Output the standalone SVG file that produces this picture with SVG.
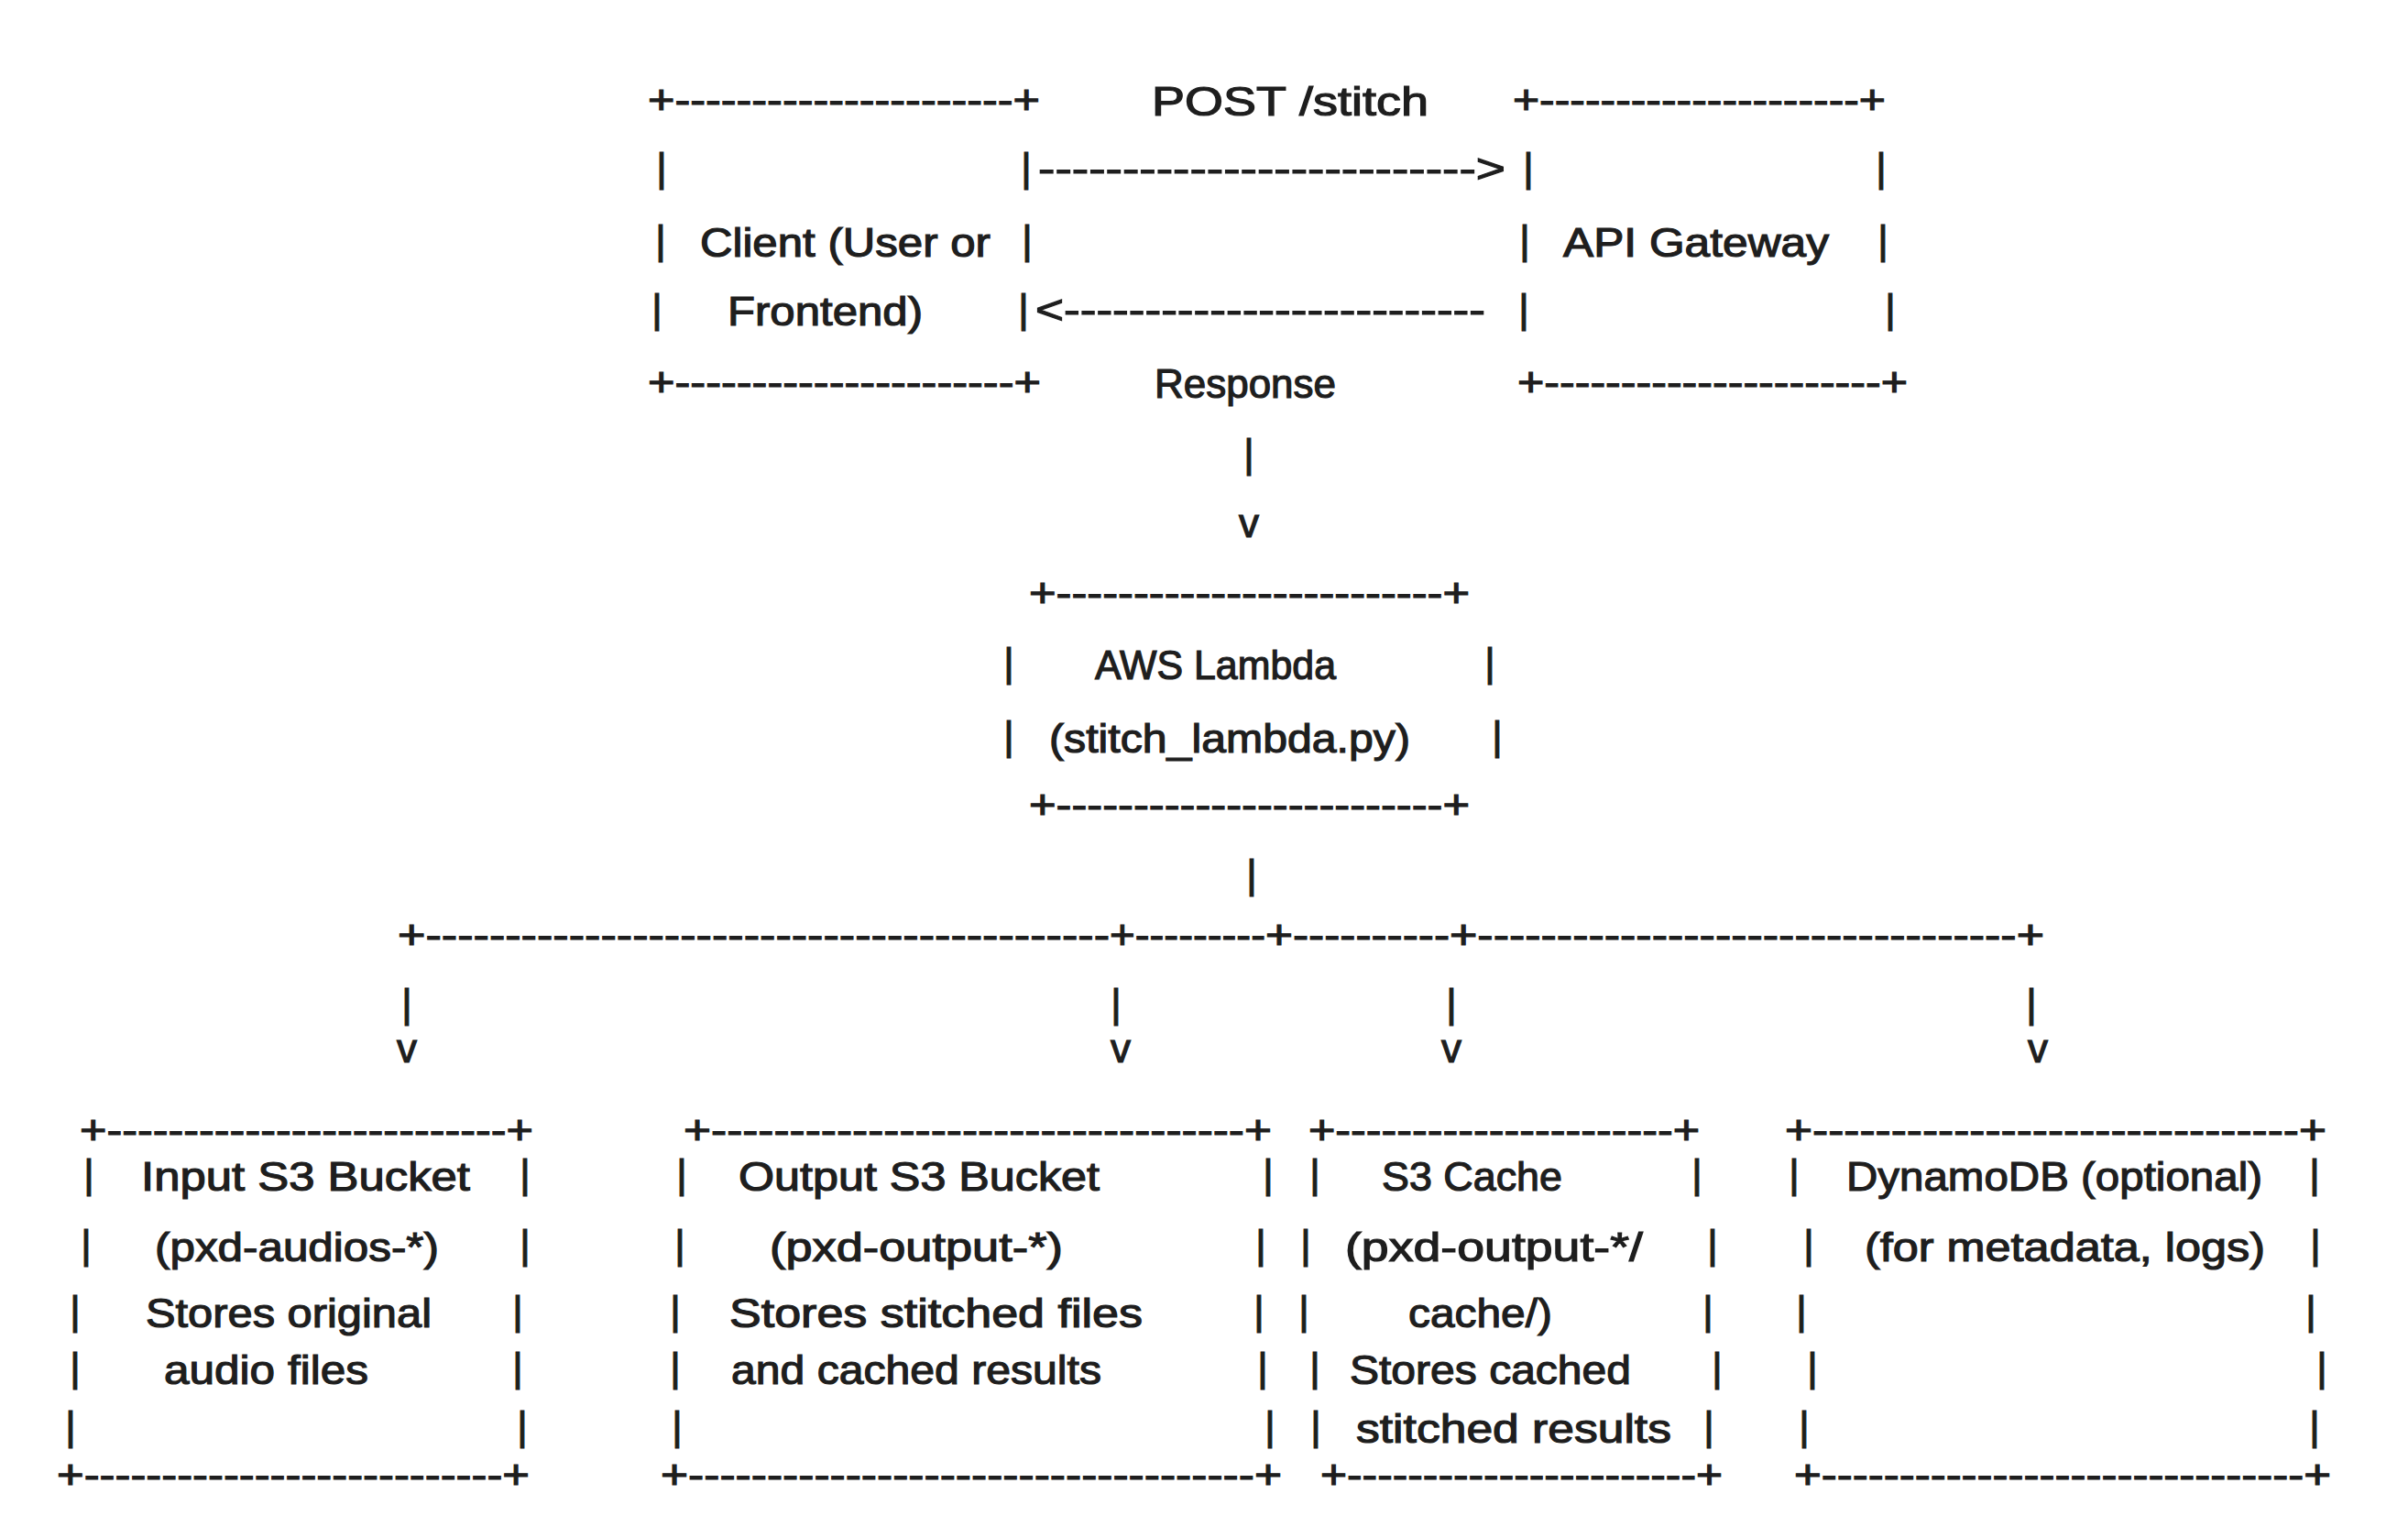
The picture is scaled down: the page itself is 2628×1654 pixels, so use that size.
<svg xmlns="http://www.w3.org/2000/svg" width="2628" height="1654" viewBox="0 0 2628 1654">
<style>
.t{font-family:"Liberation Sans",Arial,sans-serif;font-size:44px;fill:#1e1e1e;stroke:#1e1e1e;stroke-width:1.2px}
.c{text-anchor:middle}
</style>
<rect width="2628" height="1654" fill="#ffffff"/>
<g id="client">
<text class="t" x="707" y="124" textLength="428" lengthAdjust="spacingAndGlyphs">+----------------------+</text>
<text class="t c" x="722" y="198">|</text>
<text class="t c" x="1120" y="198">|</text>
<text class="t c" x="721" y="277">|</text>
<text class="t" x="764" y="280" textLength="317" lengthAdjust="spacingAndGlyphs">Client (User or</text>
<text class="t c" x="1121" y="277">|</text>
<text class="t c" x="717" y="352">|</text>
<text class="t" x="794" y="355" textLength="213" lengthAdjust="spacingAndGlyphs">Frontend)</text>
<text class="t c" x="1117" y="352">|</text>
<text class="t" x="707" y="432" textLength="429" lengthAdjust="spacingAndGlyphs">+----------------------+</text>
</g>
<g id="api-gateway">
<text class="t" x="1651" y="124" textLength="407" lengthAdjust="spacingAndGlyphs">+---------------------+</text>
<text class="t c" x="1668" y="198">|</text>
<text class="t c" x="2053" y="198">|</text>
<text class="t c" x="1664" y="277">|</text>
<text class="t" x="1706" y="280" textLength="290" lengthAdjust="spacingAndGlyphs">API Gateway</text>
<text class="t c" x="2055" y="277">|</text>
<text class="t c" x="1663" y="352">|</text>
<text class="t c" x="2063" y="352">|</text>
<text class="t" x="1656" y="432" textLength="426" lengthAdjust="spacingAndGlyphs">+----------------------+</text>
</g>
<g id="lambda">
<text class="t" x="1123" y="662" textLength="481" lengthAdjust="spacingAndGlyphs">+-------------------------+</text>
<text class="t c" x="1101" y="738">|</text>
<text class="t" x="1195" y="741" textLength="263" lengthAdjust="spacingAndGlyphs">AWS Lambda</text>
<text class="t c" x="1626" y="738">|</text>
<text class="t c" x="1101" y="818">|</text>
<text class="t" x="1145" y="821" textLength="394" lengthAdjust="spacingAndGlyphs">(stitch_lambda.py)</text>
<text class="t c" x="1634" y="818">|</text>
<text class="t" x="1123" y="893" textLength="481" lengthAdjust="spacingAndGlyphs">+-------------------------+</text>
</g>
<g id="input-s3">
<text class="t" x="87" y="1248" textLength="495" lengthAdjust="spacingAndGlyphs">+--------------------------+</text>
<text class="t c" x="97" y="1296">|</text>
<text class="t" x="154" y="1299" textLength="359" lengthAdjust="spacingAndGlyphs">Input S3 Bucket</text>
<text class="t c" x="573" y="1296">|</text>
<text class="t c" x="94" y="1373">|</text>
<text class="t" x="169" y="1376" textLength="310" lengthAdjust="spacingAndGlyphs">(pxd-audios-*)</text>
<text class="t c" x="573" y="1373">|</text>
<text class="t c" x="82" y="1445">|</text>
<text class="t" x="159" y="1448" textLength="312" lengthAdjust="spacingAndGlyphs">Stores original</text>
<text class="t c" x="565" y="1445">|</text>
<text class="t c" x="82" y="1507">|</text>
<text class="t" x="179" y="1510" textLength="223" lengthAdjust="spacingAndGlyphs">audio files</text>
<text class="t c" x="565" y="1507">|</text>
<text class="t c" x="77" y="1571">|</text>
<text class="t c" x="570" y="1571">|</text>
<text class="t" x="62" y="1624" textLength="516" lengthAdjust="spacingAndGlyphs">+---------------------------+</text>
</g>
<g id="output-s3">
<text class="t" x="746" y="1248" textLength="642" lengthAdjust="spacingAndGlyphs">+----------------------------------+</text>
<text class="t c" x="744" y="1296">|</text>
<text class="t" x="806" y="1299" textLength="394" lengthAdjust="spacingAndGlyphs">Output S3 Bucket</text>
<text class="t c" x="1384" y="1296">|</text>
<text class="t c" x="742" y="1373">|</text>
<text class="t" x="840" y="1376" textLength="320" lengthAdjust="spacingAndGlyphs">(pxd-output-*)</text>
<text class="t c" x="1376" y="1373">|</text>
<text class="t c" x="737" y="1445">|</text>
<text class="t" x="796" y="1448" textLength="451" lengthAdjust="spacingAndGlyphs">Stores stitched files</text>
<text class="t c" x="1374" y="1445">|</text>
<text class="t c" x="737" y="1507">|</text>
<text class="t" x="798" y="1510" textLength="404" lengthAdjust="spacingAndGlyphs">and cached results</text>
<text class="t c" x="1378" y="1507">|</text>
<text class="t c" x="739" y="1571">|</text>
<text class="t c" x="1386" y="1571">|</text>
<text class="t" x="721" y="1624" textLength="678" lengthAdjust="spacingAndGlyphs">+------------------------------------+</text>
</g>
<g id="s3-cache">
<text class="t" x="1428" y="1248" textLength="427" lengthAdjust="spacingAndGlyphs">+----------------------+</text>
<text class="t c" x="1435" y="1296">|</text>
<text class="t" x="1508" y="1299" textLength="197" lengthAdjust="spacingAndGlyphs">S3 Cache</text>
<text class="t c" x="1852" y="1296">|</text>
<text class="t c" x="1425" y="1373">|</text>
<text class="t" x="1468" y="1376" textLength="325" lengthAdjust="spacingAndGlyphs">(pxd-output-*/</text>
<text class="t c" x="1869" y="1373">|</text>
<text class="t c" x="1423" y="1445">|</text>
<text class="t" x="1537" y="1448" textLength="157" lengthAdjust="spacingAndGlyphs">cache/)</text>
<text class="t c" x="1864" y="1445">|</text>
<text class="t c" x="1435" y="1507">|</text>
<text class="t" x="1473" y="1510" textLength="307" lengthAdjust="spacingAndGlyphs">Stores cached</text>
<text class="t c" x="1874" y="1507">|</text>
<text class="t c" x="1436" y="1571">|</text>
<text class="t" x="1480" y="1574" textLength="344" lengthAdjust="spacingAndGlyphs">stitched results</text>
<text class="t c" x="1865" y="1571">|</text>
<text class="t" x="1441" y="1624" textLength="439" lengthAdjust="spacingAndGlyphs">+-----------------------+</text>
</g>
<g id="dynamodb">
<text class="t" x="1948" y="1248" textLength="591" lengthAdjust="spacingAndGlyphs">+-------------------------------+</text>
<text class="t c" x="1958" y="1296">|</text>
<text class="t" x="2015" y="1299" textLength="454" lengthAdjust="spacingAndGlyphs">DynamoDB (optional)</text>
<text class="t c" x="2526" y="1296">|</text>
<text class="t c" x="1974" y="1373">|</text>
<text class="t" x="2035" y="1376" textLength="437" lengthAdjust="spacingAndGlyphs">(for metadata, logs)</text>
<text class="t c" x="2527" y="1373">|</text>
<text class="t c" x="1966" y="1445">|</text>
<text class="t c" x="2522" y="1445">|</text>
<text class="t c" x="1978" y="1507">|</text>
<text class="t c" x="2534" y="1507">|</text>
<text class="t c" x="1969" y="1571">|</text>
<text class="t c" x="2526" y="1571">|</text>
<text class="t" x="1958" y="1624" textLength="586" lengthAdjust="spacingAndGlyphs">+-------------------------------+</text>
</g>
<g id="connectors">
<text class="t" x="1257" y="126" textLength="302" lengthAdjust="spacingAndGlyphs">POST /stitch</text>
<text class="t" x="1133" y="199" textLength="510" lengthAdjust="spacingAndGlyphs">--------------------------&gt;</text>
<text class="t" x="1130" y="353" textLength="491" lengthAdjust="spacingAndGlyphs">&lt;--------------------------</text>
<text class="t" x="1260" y="434" textLength="198" lengthAdjust="spacingAndGlyphs">Response</text>
<text class="t c" x="1363" y="510">|</text>
<text class="t c" x="1363" y="586">v</text>
<text class="t c" x="1366" y="969">|</text>
<text class="t" x="434" y="1035" textLength="777" lengthAdjust="spacingAndGlyphs">+-------------------------------------------</text>
<text class="t" x="1211" y="1035" textLength="170" lengthAdjust="spacingAndGlyphs">+---------</text>
<text class="t" x="1381" y="1035" textLength="201" lengthAdjust="spacingAndGlyphs">+----------</text>
<text class="t" x="1582" y="1035" textLength="649" lengthAdjust="spacingAndGlyphs">+----------------------------------+</text>
<text class="t c" x="444" y="1110">|</text>
<text class="t c" x="1218" y="1110">|</text>
<text class="t c" x="1584" y="1110">|</text>
<text class="t c" x="2217" y="1110">|</text>
<text class="t c" x="444" y="1159">v</text>
<text class="t c" x="1223" y="1159">v</text>
<text class="t c" x="1584" y="1159">v</text>
<text class="t c" x="2224" y="1159">v</text>
</g>
</svg>
